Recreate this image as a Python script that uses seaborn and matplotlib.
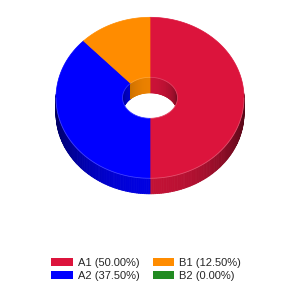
import numpy as np
import matplotlib
matplotlib.use("Agg")
import matplotlib.pyplot as plt
from matplotlib.collections import PolyCollection
from matplotlib.patches import Patch, Polygon
from matplotlib.colors import to_rgb
import seaborn as sns

# ---- data ----
labels = ["A1", "A2", "B1", "B2"]
values = [4, 3, 1, 0]
colors_hex = ["#DC143C", "#0000FF", "#FF8C00", "#228B22"]

sns.set_theme(style="white")
plt.rcParams["font.family"] = ["Liberation Sans", "DejaVu Sans"]
palette = sns.color_palette(colors_hex)

total = float(sum(values))
fracs = [v / total for v in values]
pct_labels = [f"{l} ({f*100:.2f}%)" for l, f in zip(labels, fracs)]

fig = plt.figure(figsize=(3, 3), dpi=100)
ax = fig.add_axes([0, 0, 1, 1])
ax.set_xlim(0, 300)
ax.set_ylim(300, 0)
ax.axis("off")

cx, cy = 150.0, 97.8
rx, ry = 94.0, 80.5
ix, iy = 27.5, 20.5
depth = 15.5


def pt(t, a, b, dy=0.0):
    return (cx + a * np.sin(t), cy - b * np.cos(t) + dy)


def shade(c, f):
    r, g, b = to_rgb(c)
    return (r * f, g * f, b * f)


# angle spans (clockwise from top)
spans = []
start = 0.0
for f, c in zip(fracs, palette):
    end = start + f * 2 * np.pi
    spans.append((start, end, c))
    start = end

# inner wall (back half visible through the hole)
polys, cols = [], []
for s, e, c in spans:
    if e - s <= 0:
        continue
    n = max(2, int((e - s) / 0.02))
    ts = np.linspace(s, e, n + 1)
    for t0, t1 in zip(ts[:-1], ts[1:]):
        tm = 0.5 * (t0 + t1)
        if np.cos(tm) <= -0.05:
            continue
        f = 0.5 + 0.42 * max(np.cos(tm), 0)
        polys.append([pt(t0, ix, iy), pt(t1, ix, iy),
                      pt(t1, ix, iy, depth), pt(t0, ix, iy, depth)])
        cols.append(shade(c, f))
ax.add_collection(PolyCollection(polys, facecolors=cols, edgecolors=cols,
                                 linewidths=0.6))

# outer side wall (front half)
polys, cols = [], []
for s, e, c in spans:
    if e - s <= 0:
        continue
    n = max(2, int((e - s) / 0.02))
    ts = np.linspace(s, e, n + 1)
    for t0, t1 in zip(ts[:-1], ts[1:]):
        tm = 0.5 * (t0 + t1)
        if np.cos(tm) >= 0.05:
            continue
        f = 0.38 + 0.5 * max(-np.cos(tm), 0) ** 1.5
        polys.append([pt(t0, rx, ry), pt(t1, rx, ry),
                      pt(t1, rx, ry, depth), pt(t0, rx, ry, depth)])
        cols.append(shade(c, f))
ax.add_collection(PolyCollection(polys, facecolors=cols, edgecolors=cols,
                                 linewidths=0.6))

# top faces
for s, e, c in spans:
    if e - s <= 0:
        continue
    ts = np.linspace(s, e, 200)
    outer = [pt(t, rx, ry) for t in ts]
    inner = [pt(t, ix, iy) for t in ts[::-1]]
    ax.add_patch(Polygon(outer + inner, closed=True, facecolor=c,
                         edgecolor=c, linewidth=0.5))

# subtle highlights on edges
ts = np.linspace(np.pi / 2, 3 * np.pi / 2, 200)
xy = np.array([pt(t, rx, ry) for t in ts])
ax.plot(xy[:, 0], xy[:, 1], color="white", alpha=0.25, lw=0.6)
ts = np.linspace(0, 2 * np.pi, 200)
xy = np.array([pt(t, ix, iy) for t in ts])
ax.plot(xy[:, 0], xy[:, 1], color="white", alpha=0.2, lw=0.6)

handles = [Patch(facecolor=c, edgecolor="none") for c in palette]
fig.legend(handles, pct_labels, loc="center left", ncol=2,
           bbox_to_anchor=(51 / 300, 1 - 269.5 / 300), frameon=False,
           fontsize=8, handlelength=1.95, handleheight=0.75,
           handletextpad=0.45, columnspacing=1.2, labelspacing=0.3,
           borderpad=0, borderaxespad=0)

fig.savefig("out.png", dpi=100, facecolor="white")
